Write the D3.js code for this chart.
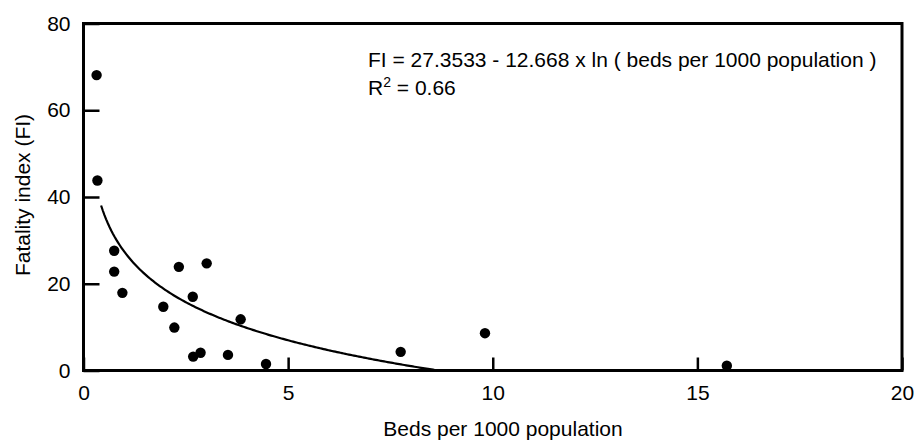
<!DOCTYPE html>
<html>
<head>
<meta charset="utf-8">
<script src="https://cdn.jsdelivr.net/npm/d3@7"></script>
<style>
  html, body { margin: 0; padding: 0; background: #fff; }
  svg { display: block; font-family: "Liberation Sans", Arial, Helvetica, sans-serif; }
</style>
</head>
<body>
<svg id="chart" width="915" height="442"></svg>
<script>
// ---- data ----
const beds = [0.32, 0.34, 0.75, 0.75, 0.95, 1.95, 2.22, 2.33, 2.67, 3.01, 2.68, 2.86, 3.53, 3.84, 4.46, 7.75, 9.81, 15.72];
const fatality = [68.1, 43.8, 27.6, 22.8, 17.9, 14.7, 9.9, 23.9, 17.0, 24.7, 3.2, 4.1, 3.6, 11.8, 1.5, 4.3, 8.6, 1.1];
const xTicks = [0, 5, 10, 15, 20];
const yTicks = [0, 20, 40, 60, 80];
const fitIntercept = 27.3533;
const fitSlope = 12.668;
const fitStart = 0.43;
const equationText = "FI = 27.3533 - 12.668 x ln ( beds per 1000 population )";
const r2Value = "0.66";
const xTitle = "Beds per 1000 population";
const yTitle = "Fatality index (FI)";

const svg = d3.select("#chart");
const mLeft = 83.5, mRight = 902, mTop = 23.5, mBottom = 370.5;

const x = d3.scaleLinear().domain([0, 20]).range([mLeft, mRight]);
const y = d3.scaleLinear().domain([0, 80]).range([mBottom, mTop]);

// x axis (ticks pointing inward/up)
const xAxis = d3.axisBottom(x).tickValues(xTicks).tickSizeInner(-13).tickSizeOuter(0).tickPadding(14)
  .tickFormat(d3.format("d"));
const gx = svg.append("g").attr("transform", `translate(0,${mBottom})`).call(xAxis);
gx.select(".domain").remove();
gx.selectAll(".tick line").attr("stroke", "#000").attr("stroke-width", 2.5);
gx.selectAll(".tick text").attr("font-size", 21).attr("fill", "#000").attr("dy", "0.71em")
  .attr("y", 15);

// y axis (ticks pointing inward/right)
const yAxis = d3.axisLeft(y).tickValues(yTicks).tickSizeInner(-16).tickSizeOuter(0).tickPadding(13)
  .tickFormat(d3.format("d"));
const gy = svg.append("g").attr("transform", `translate(${mLeft},0)`).call(yAxis);
gy.select(".domain").remove();
gy.selectAll(".tick line").attr("stroke", "#000").attr("stroke-width", 2.5);
gy.selectAll(".tick text").attr("font-size", 21).attr("fill", "#000");

// frame
svg.append("rect")
  .attr("x", mLeft).attr("y", mTop)
  .attr("width", mRight - mLeft).attr("height", mBottom - mTop)
  .attr("fill", "none").attr("stroke", "#000").attr("stroke-width", 3);

// fitted curve FI = a - b ln(x), drawn until FI reaches 0
const xEnd = Math.exp(fitIntercept / fitSlope);
const curvePts = d3.range(0, 201).map(i => {
  const bx = fitStart + (xEnd - fitStart) * i / 200;
  return [bx, Math.max(0, fitIntercept - fitSlope * Math.log(bx))];
});
svg.append("path")
  .datum(curvePts)
  .attr("fill", "none").attr("stroke", "#000").attr("stroke-width", 2.2)
  .attr("d", d3.line().x(d => x(d[0])).y(d => y(d[1])));

// points
svg.append("g").selectAll("circle")
  .data(beds.map((b, i) => [b, fatality[i]]))
  .join("circle")
  .attr("cx", d => x(d[0])).attr("cy", d => y(d[1]))
  .attr("r", 5.2).attr("fill", "#000");

// equation annotation
svg.append("text").attr("x", 368).attr("y", 66.5)
  .attr("font-size", 21).attr("fill", "#000").text(equationText);
const r2 = svg.append("text").attr("x", 368).attr("y", 95)
  .attr("font-size", 21).attr("fill", "#000");
r2.append("tspan").text("R");
r2.append("tspan").attr("font-size", 14).attr("dy", -8).text("2");
r2.append("tspan").attr("dy", 8).text(" = " + r2Value);

// axis titles
svg.append("text").attr("x", 503).attr("y", 436)
  .attr("text-anchor", "middle").attr("font-size", 21).attr("fill", "#000").text(xTitle);
svg.append("text")
  .attr("transform", "translate(30,195) rotate(-90)")
  .attr("text-anchor", "middle").attr("font-size", 21).attr("fill", "#000").text(yTitle);
</script>
</body>
</html>
